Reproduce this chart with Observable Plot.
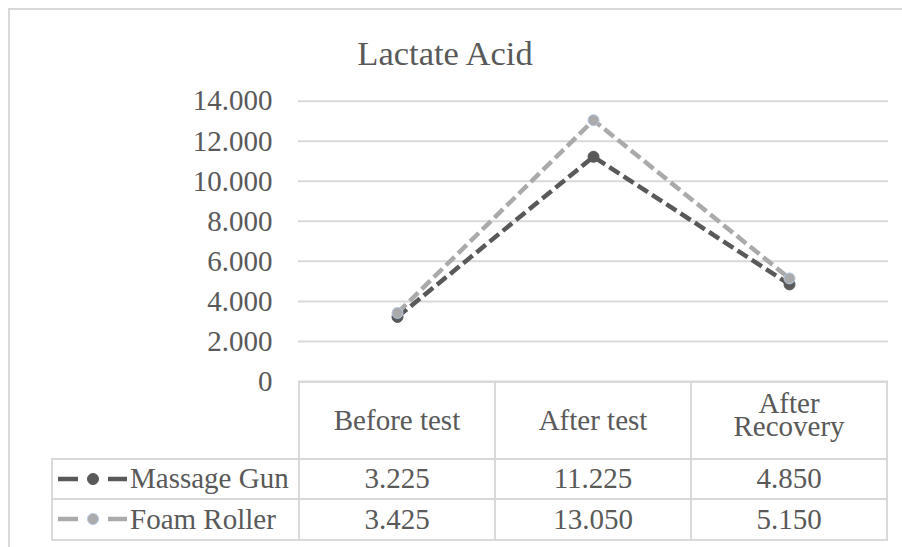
<!DOCTYPE html>
<html><head><meta charset="utf-8">
<script src="https://cdn.jsdelivr.net/npm/d3@7"></script>
<script src="https://cdn.jsdelivr.net/npm/@observablehq/plot@0.6"></script>
<style>
html,body{margin:0;padding:0;background:#fff;}
#wrap{position:relative;width:902px;height:547px;overflow:hidden;background:#fff;font-family:"Liberation Serif","Times New Roman",serif;color:#595959;}
#frame{position:absolute;left:8px;top:8px;width:1000px;height:1000px;border-left:2px solid #d9d9d9;border-top:2px solid #d9d9d9;}
#title{position:absolute;left:0;width:890px;top:36px;text-align:center;font-size:34.5px;line-height:34px;white-space:nowrap;}
#chart{position:absolute;left:0;top:0;}
.cell{position:absolute;box-sizing:border-box;border:2px solid #d9d9d9;display:flex;align-items:center;justify-content:center;text-align:center;font-size:29px;line-height:23px;white-space:pre-line;}
.cell span.multi{position:relative;top:-5px;}
.cell.key{justify-content:flex-start;padding-left:5px;white-space:nowrap;}
.cell.key svg{margin-right:2px;flex:none;}
</style></head>
<body><div id="wrap"><div id="frame"></div><div id="title"></div><div id="chart"></div></div>
<script>
const title = "Lactate Acid";
const categories = ["Before test", "After test", "After Recovery"];
const headerLabels = ["Before test", "After test", "After\nRecovery"];
const seriesNames = ["Massage Gun", "Foam Roller"];
const massageGun = [3.225, 11.225, 4.850];
const foamRoller = [3.425, 13.050, 5.150];
const yTicks = [0, 2, 4, 6, 8, 10, 12, 14];
const seriesColors = ["#595959", "#aaaaaa"];
const markerStrokes = ["#595959", "#b4c7e7"];

const seriesValues = [massageGun, foamRoller];
const data = seriesNames.flatMap((s, i) =>
  categories.map((c, j) => ({series: s, category: c, value: seriesValues[i][j], idx: i})));

document.getElementById("title").textContent = title;

const W = 902, H = 547;
const fmt = d => d === 0 ? "0" : d3.format(".3f")(d);

const marks = [
  Plot.ruleY(yTicks, {stroke: "#d9d9d9", strokeWidth: 2}),
  Plot.axisY({ticks: yTicks, tickSize: 0, tickPadding: 26, tickFormat: fmt, fontSize: 29, fill: "#595959", label: null})
];
seriesNames.forEach((s, i) => {
  const rows = data.filter(d => d.series === s);
  marks.push(Plot.line(rows, {x: "category", y: "value", stroke: seriesColors[i], strokeWidth: 4.5, strokeDasharray: "12,5", strokeLinecap: "butt"}));
});
seriesNames.forEach((s, i) => {
  const rows = data.filter(d => d.series === s);
  marks.push(Plot.dot(rows, {x: "category", y: "value", r: 5.5, fill: seriesColors[i], stroke: markerStrokes[i], strokeWidth: 1}));
});

const chart = Plot.plot({
  width: W, height: H,
  marginLeft: 298, marginRight: 14, marginTop: 100.7, marginBottom: 166,
  x: {type: "band", domain: categories, padding: 0, axis: null},
  y: {domain: [0, 14], axis: null},
  style: {fontFamily: "Liberation Serif, Times New Roman, serif", fontSize: "29px", color: "#595959", background: "transparent"},
  marks
});
document.getElementById("chart").appendChild(chart);

// data table below the plot, columns aligned with the x band scale
const xs = chart.scale("x");
const ys = chart.scale("y");
const bw = xs.bandwidth;
const wrap = document.getElementById("wrap");
const tableLeft = 52;
const top0 = ys.apply(0) + 1;
const headerH = 76.5, rowH = 40.5;

function cell(x0, y0, w, h, cls) {
  const el = document.createElement("div");
  el.className = "cell" + (cls ? " " + cls : "");
  el.style.left = (x0 - 1) + "px";
  el.style.top = (y0 - 1) + "px";
  el.style.width = (w + 2) + "px";
  el.style.height = (h + 2) + "px";
  wrap.appendChild(el);
  return el;
}

categories.forEach((c, j) => {
  const el = cell(xs.apply(c), top0, bw, headerH);
  const sp = document.createElement("span");
  sp.textContent = headerLabels[j];
  if (headerLabels[j].includes("\n")) sp.className = "multi";
  el.appendChild(sp);
});
seriesNames.forEach((s, i) => {
  const y0 = top0 + headerH + rowH * i;
  const firstX = xs.apply(categories[0]);
  const k = cell(tableLeft, y0, firstX - tableLeft, rowH, "key");
  const svg = d3.create("svg").attr("width", 70).attr("height", 16);
  svg.append("line").attr("x1", 0).attr("x2", 20).attr("y1", 8).attr("y2", 8)
    .attr("stroke", seriesColors[i]).attr("stroke-width", 4.5);
  svg.append("line").attr("x1", 50).attr("x2", 69).attr("y1", 8).attr("y2", 8)
    .attr("stroke", seriesColors[i]).attr("stroke-width", 4.5);
  svg.append("circle").attr("cx", 35).attr("cy", 8).attr("r", 5.5)
    .attr("fill", seriesColors[i]).attr("stroke", markerStrokes[i]).attr("stroke-width", 1);
  k.appendChild(svg.node());
  const t = document.createElement("span");
  t.textContent = s;
  k.appendChild(t);
  categories.forEach((c, j) => {
    cell(xs.apply(c), y0, bw, rowH).textContent = d3.format(".3f")(seriesValues[i][j]);
  });
});
</script>
</body></html>
